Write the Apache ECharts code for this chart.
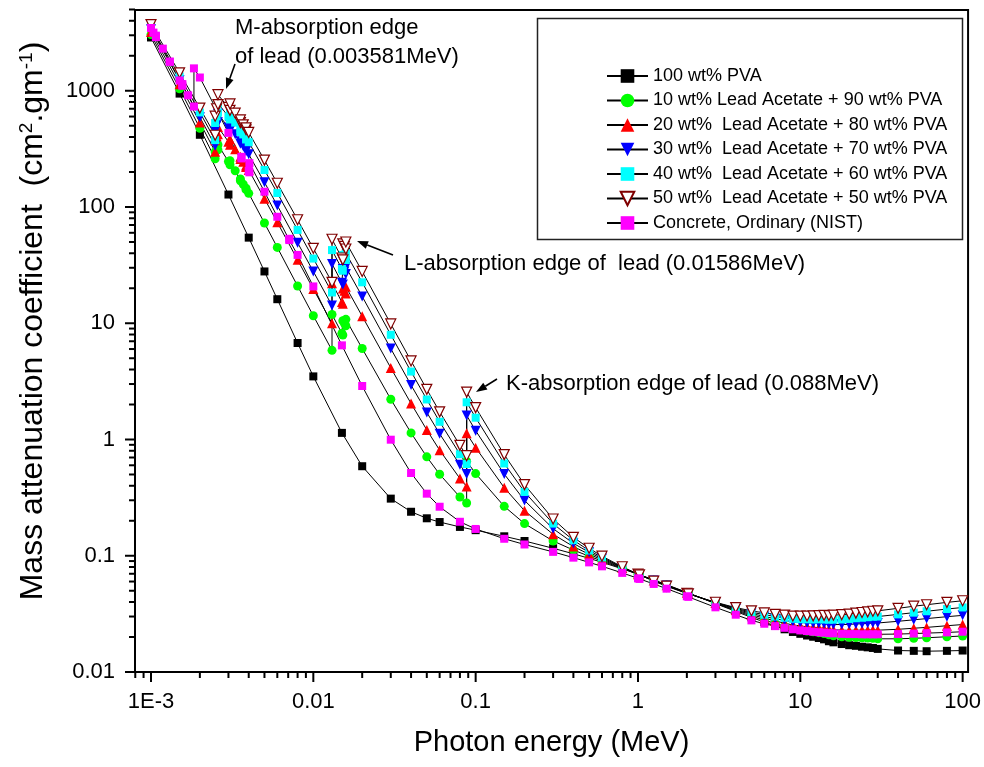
<!DOCTYPE html>
<html><head><meta charset="utf-8">
<script src="https://cdn.jsdelivr.net/npm/echarts@6/dist/echarts.min.js"></script>
<style>html,body{margin:0;padding:0;background:#fff}#c{width:984px;height:767px}</style>
</head><body><div id="c"></div>
<script>
// ---------------- data (MeV, cm^2/g) ----------------
const energyPVA = [0.001,0.0015,0.002,0.003,0.004,0.005,0.006,0.008,0.01,0.015,0.02,0.03,0.04,0.05,0.06,0.08,0.1,0.15,0.2,0.3,0.4,0.5,0.6,0.8,1,1.022,1.25,1.5,2,2.044,3,4,5,6,7,8,9,10,11,12,13,14,15,16,18,20,22,24,26,28,30,40,50,60,80,100];
const muPVA = [2873,945,418,128,54.5,27.9,16.1,6.76,3.49,1.14,0.589,0.310,0.239,0.210,0.195,0.177,0.166,0.147,0.134,0.116,0.104,0.0950,0.0878,0.0772,0.0694,0.0686,0.0620,0.0564,0.0484,0.0480,0.0388,0.0332,0.0295,0.0269,0.0249,0.0233,0.0221,0.0213,0.0206,0.0201,0.0196,0.0191,0.0184,0.0180,0.0174,0.0170,0.0168,0.0165,0.0163,0.0161,0.0158,0.0153,0.0152,0.0151,0.0152,0.0153];

const energyLead = [0.001,0.0015,0.002,0.002484,0.002484,0.0025343,0.0025856,0.0025856,0.003,0.0030664,0.0030664,0.0033013,0.0035542,0.0035542,0.0036995,0.0038507,0.0038507,0.004,0.005,0.006,0.008,0.01,0.013035,0.013035,0.015,0.0152,0.0152,0.015527,0.015861,0.015861,0.02,0.03,0.04,0.05,0.06,0.08,0.088,0.088,0.1,0.15,0.2,0.3,0.4,0.5,0.6,0.8,1,1.022,1.25,1.5,2,2.044,3,4,5,6,7,8,9,10,11,12,13,14,15,16,18,20,22,24,26,28,30,40,50,60,80,100];
const muLead10 = [3040,1041,476,260,298,307,310,343,246,231,250,205,168,174,157,141,145,131,72.8,44.9,20.9,11.6,5.85,11.9,8.19,7.91,10.5,10.0,9.51,10.8,6.06,2.22,1.14,0.709,0.502,0.320,0.284,0.651,0.509,0.266,0.189,0.134,0.112,0.0991,0.0900,0.0779,0.0694,0.0686,0.0617,0.0561,0.0482,0.0478,0.0390,0.0337,0.0303,0.0279,0.0262,0.0248,0.0237,0.0231,0.0225,0.0222,0.0218,0.0214,0.0209,0.0205,0.0201,0.0199,0.0198,0.0197,0.0196,0.0195,0.0193,0.0193,0.0195,0.0197,0.0201,0.0204];
const muLead20 = [3208,1138,534,299,375,406,423,488,364,343,380,314,259,271,245,221,228,208,118,73.8,35.1,19.7,10.0,22.1,15.2,14.7,19.9,19.0,18.0,20.6,11.5,4.13,2.04,1.21,0.809,0.462,0.394,1.13,0.851,0.385,0.244,0.153,0.120,0.103,0.0923,0.0785,0.0694,0.0686,0.0614,0.0557,0.0480,0.0476,0.0392,0.0342,0.0311,0.0290,0.0275,0.0263,0.0254,0.0249,0.0245,0.0242,0.0240,0.0237,0.0233,0.0231,0.0229,0.0228,0.0229,0.0229,0.0229,0.0230,0.0229,0.0233,0.0238,0.0242,0.0250,0.0256];
const muLead30 = [3376,1234,592,337,451,504,536,634,482,455,510,423,350,367,333,301,312,284,163,103,49.3,27.9,14.2,32.4,22.3,21.5,29.3,27.9,26.5,30.4,17.0,6.05,2.94,1.71,1.12,0.605,0.505,1.61,1.19,0.504,0.299,0.171,0.128,0.107,0.0946,0.0791,0.0694,0.0685,0.0611,0.0554,0.0478,0.0474,0.0394,0.0348,0.0319,0.0300,0.0287,0.0278,0.0270,0.0267,0.0264,0.0263,0.0262,0.0260,0.0257,0.0256,0.0256,0.0257,0.0259,0.0260,0.0262,0.0264,0.0264,0.0273,0.0281,0.0288,0.0299,0.0307];
const muLead40 = [3543,1330,651,376,528,602,648,779,600,566,640,532,441,464,421,381,396,361,208,132,63.5,36.0,18.4,42.6,29.3,28.3,38.7,36.9,35.0,40.2,22.5,7.96,3.84,2.21,1.42,0.747,0.615,2.09,1.54,0.622,0.354,0.189,0.136,0.111,0.0968,0.0797,0.0694,0.0685,0.0608,0.0550,0.0475,0.0472,0.0396,0.0353,0.0327,0.0311,0.0300,0.0293,0.0287,0.0285,0.0284,0.0283,0.0284,0.0283,0.0282,0.0282,0.0283,0.0286,0.0290,0.0293,0.0296,0.0299,0.0300,0.0313,0.0324,0.0333,0.0348,0.0359];
const muLead50 = [3711,1427,709,414,604,700,761,925,718,678,770,641,532,561,509,462,480,438,253,160,77.7,44.1,22.5,52.8,36.4,35.1,48.1,45.9,43.5,50.0,27.9,9.87,4.74,2.70,1.73,0.890,0.726,2.56,1.88,0.741,0.409,0.207,0.144,0.116,0.0991,0.0804,0.0694,0.0685,0.0606,0.0547,0.0474,0.0470,0.0398,0.0358,0.0336,0.0322,0.0313,0.0308,0.0303,0.0303,0.0303,0.0304,0.0306,0.0307,0.0306,0.0308,0.0311,0.0315,0.0321,0.0325,0.0329,0.0333,0.0336,0.0353,0.0368,0.0379,0.0397,0.0410];

const energyConcrete = [0.001,0.0010354,0.0010721,0.0010721,0.0011828,0.001305,0.001305,0.0015,0.0015596,0.0015596,0.0016935,0.0018389,0.0018389,0.002,0.003,0.0036074,0.0036074,0.004,0.0040381,0.0040381,0.005,0.006,0.007112,0.007112,0.008,0.01,0.015,0.02,0.03,0.04,0.05,0.06,0.08,0.1,0.15,0.2,0.3,0.4,0.5,0.6,0.8,1,1.022,1.25,1.5,2,2.044,3,4,5,6,7,8,9,10,11,12,13,14,15,16,18,20,22,24,26,28,30,40,50,60,80,100];
const muConcrete = [3466,3164,2889,2978,2302,1775,1781,1227,1104,1141,913.5,731.5,1558,1300,434.2,261.7,270.2,204.1,198.8,238.4,135.4,82.4,51.94,53.28,38.71,20.74,6.453,2.884,0.996,0.515,0.342,0.264,0.196,0.170,0.140,0.125,0.108,0.0963,0.0877,0.0811,0.0712,0.0639,0.0632,0.0572,0.0521,0.0448,0.0443,0.0360,0.0311,0.0278,0.0260,0.0248,0.0240,0.0233,0.0228,0.0225,0.0222,0.0220,0.0218,0.0216,0.0215,0.0213,0.0212,0.0212,0.0211,0.0211,0.0211,0.0211,0.0212,0.0214,0.0216,0.0219,0.0222];

const seriesNames = ['100 wt% PVA','10 wt% Lead Acetate + 90 wt% PVA','20 wt%  Lead Acetate + 80 wt% PVA','30 wt%  Lead Acetate + 70 wt% PVA','40 wt%  Lead Acetate + 60 wt% PVA','50 wt%  Lead Acetate + 50 wt% PVA','Concrete, Ordinary (NIST)'];

const xMajorTicks = [0.001,0.01,0.1,1,10,100];
const xTickLabels = ['1E-3','0.01','0.1','1','10','100'];
const yMajorTicks = [0.01,0.1,1,10,100,1000];
const yTickLabels = ['0.01','0.1','1','10','100','1000'];
const X_MIN = 0.000797, X_MAX = 108, Y_MIN = 0.01, Y_MAX = 4950;

// minor ticks: 2..9 times each decade, inside the axis range
function minors(decades, lo, hi) {
  const out = [];
  decades.forEach(d => { for (let k = 2; k <= 9; k++) { const v = d * k; if (v > lo && v < hi) out.push(v); } });
  return out;
}
const xMinorTicks = minors([0.0001,0.001,0.01,0.1,1,10], X_MIN, X_MAX);
const yMinorTicks = minors([0.01,0.1,1,10,100,1000], Y_MIN, Y_MAX * 1.02);

const FONT = '"Liberation Sans", Arial, Helvetica, sans-serif';

function labelFor(v, ticks, labels) {
  const l = Math.log10(v);
  for (let i = 0; i < ticks.length; i++) if (Math.abs(l - Math.log10(ticks[i])) < 1e-6) return labels[i];
  return '';
}

function lineSeries(name, xs, ys, symbol, itemStyle, extra) {
  return Object.assign({
    type: 'line', name: name,
    data: xs.map((x, i) => [x, ys[i]]),
    symbol: symbol, symbolSize: 8,
    itemStyle: itemStyle,
    lineStyle: { color: '#000', width: 1 },
    emphasis: { disabled: true },
    animation: false
  }, extra || {});
}

function tickSeries(values, isX, len, width) {
  return {
    type: 'custom', silent: true, animation: false, clip: false, z: 5,
    data: values.map(v => isX ? [v, Y_MIN] : [X_MIN, v]),
    renderItem: function (params, api) {
      const p = api.coord([api.value(0), api.value(1)]);
      const shape = isX ? { x1: p[0], y1: p[1], x2: p[0], y2: p[1] + len }
                        : { x1: p[0], y1: p[1], x2: p[0] - len, y2: p[1] };
      return { type: 'line', shape: shape, style: { stroke: '#000', lineWidth: width } };
    }
  };
}

function arrow(x1, y1, x2, y2) {
  const dx = x2 - x1, dy = y2 - y1, L = Math.hypot(dx, dy);
  const ux = dx / L, uy = dy / L, hl = 11, hw = 4;
  const bx = x2 - ux * hl, by = y2 - uy * hl;
  return [
    { type: 'line', shape: { x1: x1, y1: y1, x2: bx, y2: by }, style: { stroke: '#000', lineWidth: 1.6 } },
    { type: 'polygon', shape: { points: [[x2, y2], [bx - uy * hw, by + ux * hw], [bx + uy * hw, by - ux * hw]] }, style: { fill: '#000' } }
  ];
}

function txt(s, x, y) {
  return { type: 'text', x: x, y: y, style: { text: s, fontSize: 22, fontFamily: FONT, fill: '#000', verticalAlign: 'middle' } };
}

const chart = echarts.init(document.getElementById('c'), null, { renderer: 'canvas' });
chart.setOption({
  backgroundColor: '#fff',
  animation: false,
  grid: { left: 135, right: 15, top: 10, bottom: 95, show: true, borderColor: '#000', borderWidth: 2, backgroundColor: 'transparent' },
  xAxis: {
    type: 'log', logBase: 10, min: X_MIN, max: X_MAX,
    name: 'Photon energy (MeV)', nameLocation: 'middle', nameGap: 56,
    nameTextStyle: { fontSize: 29, fontFamily: FONT, color: '#000' },
    axisLine: { show: true, lineStyle: { color: '#000', width: 2 } },
    axisTick: { show: false }, minorTick: { show: false },
    splitLine: { show: false },
    axisLabel: { margin: 19, fontSize: 22, fontFamily: FONT, color: '#000', showMinLabel: true, showMaxLabel: true,
      formatter: v => labelFor(v, xMajorTicks, xTickLabels) }
  },
  yAxis: {
    type: 'log', logBase: 10, min: Y_MIN, max: Y_MAX,
    name: 'Mass attenuation coefficient  (cm{sup|2}.gm{sup|-1})', nameLocation: 'middle', nameGap: 86,
    nameTextStyle: { fontSize: 32, fontFamily: FONT, color: '#000', padding: [0, 0, 0, 40],
      rich: { sup: { fontSize: 19, fontFamily: FONT, color: '#000', verticalAlign: 'top', padding: [0, 0, 13, 0] } } },
    axisLine: { show: true, lineStyle: { color: '#000', width: 2 } },
    axisTick: { show: false }, minorTick: { show: false },
    splitLine: { show: false },
    axisLabel: { margin: 20, fontSize: 22, fontFamily: FONT, color: '#000',
      formatter: v => labelFor(v, yMajorTicks, yTickLabels) }
  },
  legend: {
    data: seriesNames, orient: 'vertical', left: 601, top: 62,
    itemWidth: 41, itemHeight: 17, itemGap: 6.5,
    textStyle: { fontSize: 18, fontFamily: FONT, color: '#000' },
    selectedMode: false
  },
  graphic: [
    { type: 'rect', shape: { x: 537.5, y: 18.5, width: 425, height: 221 }, style: { fill: null, stroke: '#222', lineWidth: 1.5 } },
    txt('M-absorption edge', 235, 28),
    txt('of lead (0.003581MeV)', 235, 57),
    txt('L-absorption edge of  lead (0.01586MeV)', 404, 264),
    txt('K-absorption edge of lead (0.088MeV)', 506, 384),
    ...arrow(235, 64, 226, 89),
    ...arrow(393, 255, 357, 241),
    ...arrow(497, 379, 476, 392)
  ],
  series: [
    lineSeries(seriesNames[0], energyPVA, muPVA, 'rect', { color: '#000000' }),
    lineSeries(seriesNames[1], energyLead, muLead10, 'circle', { color: '#00FF00' }, { symbolSize: 9 }),
    lineSeries(seriesNames[2], energyLead, muLead20, 'triangle', { color: '#FF0000' }, { symbolSize: 10 }),
    lineSeries(seriesNames[3], energyLead, muLead30, 'triangle', { color: '#0000FF' }, { symbolSize: 10, symbolRotate: 180 }),
    lineSeries(seriesNames[4], energyLead, muLead40, 'rect', { color: '#00FFFF' }),
    lineSeries(seriesNames[5], energyLead, muLead50, 'triangle', { color: '#FFFFFF', borderColor: '#800000', borderWidth: 1.2 }, { symbolSize: 10, symbolRotate: 180 }),
    lineSeries(seriesNames[6], energyConcrete, muConcrete, 'rect', { color: '#FF00FF' }),
    tickSeries(xMajorTicks, true, 10, 2),
    tickSeries(xMinorTicks, true, 6, 2),
    tickSeries(yMajorTicks, false, 10, 2),
    tickSeries(yMinorTicks, false, 6, 2)
  ]
});
</script>
</body></html>
